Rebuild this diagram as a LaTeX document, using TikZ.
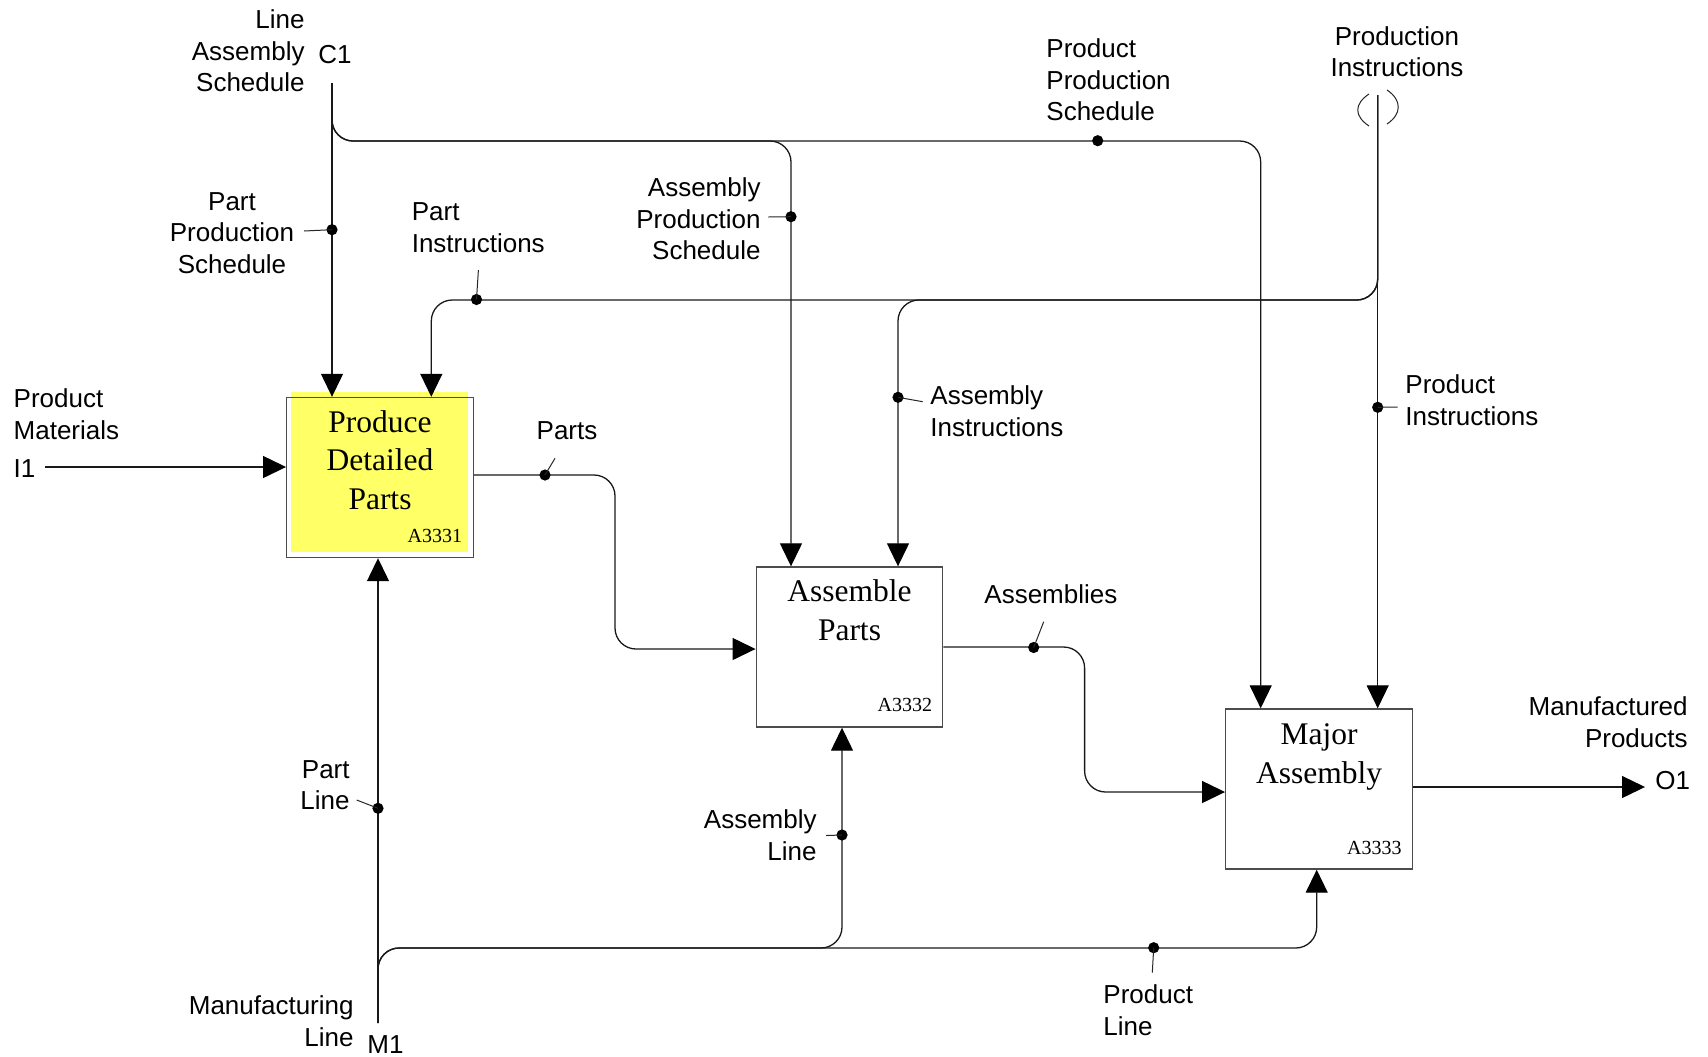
\documentclass[tikz,border=0pt]{standalone}
\usepackage{fontspec}
\setmainfont{Liberation Serif}
\setsansfont{Liberation Sans}
\usetikzlibrary{arrows.meta,calc}
\definecolor{actfill}{RGB}{255,255,102}
\begin{document}
\begin{tikzpicture}[x=0.5pt,y=-0.5pt,
  flow/.style={draw=black!90,line width=0.65pt,rounded corners=10.5pt,
    -{Triangle[length=11.5pt,width=11pt,color=black]}},
  actbox/.style={draw=black!70,line width=0.7pt,minimum width=93.25pt,
    minimum height=80pt,inner sep=0},
  ttl/.style={font=\rmfamily\fontsize{15.75}{19.25}\selectfont,align=center,inner sep=0},
  idl/.style={font=\rmfamily\fontsize{10}{12}\selectfont,inner sep=0},
  lab/.style={font=\sffamily\fontsize{13}{15.75}\selectfont,inner sep=0},
  dot/.style={circle,fill=black,inner sep=0,minimum size=5.6pt},
  leader/.style={draw=black!85,line width=0.5pt},
  tunnel/.style={draw=black!85,line width=0.5pt}]

\fill[white] (0,0) rectangle (1708,1056);
\useasboundingbox (0,0) rectangle (1708,1056);

% activity boxes
\fill[actfill] (291,392) rectangle (468,552);
\node[actbox] (b1) at (380,477.5) {};
\node[actbox] (b2) at (849.5,647) {};
\node[actbox] (b3) at (1319,789) {};

\node[ttl,anchor=north] (t1) at ($(b1.north)+(0,13)$) {Produce\\Detailed\\Parts};
\node[ttl,anchor=north] (t2) at ($(b2.north)+(0,13)$) {Assemble\\Parts};
\node[ttl,anchor=north] (t3) at ($(b3.north)+(0,15)$) {Major\\Assembly};
\node[idl,anchor=base east] (id1) at ($(b1.south east)+(-11.5,-15.5)$) {A3331};
\node[idl,anchor=base east] (id2) at ($(b2.south east)+(-11,-16)$) {A3332};
\node[idl,anchor=base east] (id3) at ($(b3.south east)+(-11,-15)$) {A3333};

% boundary ends
\coordinate (c1) at (332,83);
\coordinate (pi) at (1377.7,95);
\coordinate (i1) at (45,467);
\coordinate (m1) at (378,1023);
\coordinate (o1) at (1645,787);

% controls
\draw[flow] (c1) -- (b1.north -| c1);
\draw[flow] (c1) -- (332,141) -- (791,141) -- (b2.north -| 791,0);
\draw[flow] (c1) -- (332,141) -- (1260.7,141) -- (b3.north -| 1260.7,0);
\draw[flow] (pi) -- (b3.north -| pi);
\draw[flow] (pi) -- (1377.7,300) -- (898,300) -- (b2.north -| 898,0);
\draw[flow] (pi) -- (1377.7,300) -- (431.3,300) -- (b1.north -| 431.3,0);

% tunnelled arrow end
\draw[tunnel] (1369,94) .. controls (1354,104) and (1354,116) .. (1369,126);
\draw[tunnel] (1387,90) .. controls (1402,100) and (1402,114) .. (1387,124);

% inputs and outputs
\draw[flow] (i1) -- (b1.west |- i1);
\draw[flow] (b1.east |- 0,475) -- (615,475) -- (615,649) -- (b2.west |- 0,649);
\draw[flow] (b2.east |- 0,647) -- (1084.6,647) -- (1084.6,792) -- (b3.west |- 0,792);
\draw[flow] (b3.east |- 0,787) -- (o1);

% mechanisms
\draw[flow] (m1) -- (b1.south -| m1);
\draw[flow] (m1) -- (378,948) -- (842,948) -- (b2.south -| 842,0);
\draw[flow] (m1) -- (378,948) -- (1316.7,948) -- (b3.south -| 1316.7,0);

% label dots
\node[dot] (dpps) at (332,229.7) {};
\node[dot] (dpi) at (476.5,299.5) {};
\node[dot] (daps) at (791,216.7) {};
\node[dot] (dprs) at (1097.7,140.7) {};
\node[dot] (dai) at (898,397.3) {};
\node[dot] (dpri) at (1377.7,407.3) {};
\node[dot] (dparts) at (545,475) {};
\node[dot] (dasm) at (1033.7,647.5) {};
\node[dot] (dpl) at (378,808.3) {};
\node[dot] (dal) at (842,835) {};
\node[dot] (dprl) at (1153.7,947.7) {};

% leaders
\draw[leader] (304,231) -- (dpps.center);
\draw[leader] (478.4,270) -- (dpi.center);
\draw[leader] (768.3,217) -- (daps.center);
\draw[leader] (922.7,401.7) -- (dai.center);
\draw[leader] (1397.7,407) -- (dpri.center);
\draw[leader] (555,458.3) -- (dparts.center);
\draw[leader] (1043.7,621.7) -- (dasm.center);
\draw[leader] (356.7,800) -- (dpl.center);
\draw[leader] (826,835.5) -- (dal.center);
\draw[leader] (1152.3,972.7) -- (dprl.center);

% labels
\node[lab,align=right,anchor=east] (llas) at (305,51) {Line\\Assembly\\Schedule};
\node[lab,anchor=west] (lc1) at (318,55) {C1};
\node[lab,align=center] (lpps) at (232,233) {Part\\Production\\Schedule};
\node[lab,align=left,anchor=west] (lpi) at (411.4,227.5) {Part\\Instructions};
\node[lab,align=right,anchor=east] (laps) at (761,219) {Assembly\\Production\\Schedule};
\node[lab,align=left,anchor=west] (lprs) at (1046,80) {Product\\Production\\Schedule};
\node[lab,align=center] (lpi2) at (1397,51.5) {Production\\Instructions};
\node[lab,align=left,anchor=west] (lpm) at (13.3,414) {Product\\Materials};
\node[lab,anchor=west] (li1) at (13.3,469) {I1};
\node[lab] (lparts) at (567,431) {Parts};
\node[lab,align=left,anchor=west] (lai) at (930,411) {Assembly\\Instructions};
\node[lab,align=left,anchor=west] (lpri) at (1405,400) {Product\\Instructions};
\node[lab,anchor=west] (lasm) at (984,594) {Assemblies};
\node[lab,align=right,anchor=east] (lmp) at (1688,722) {Manufactured\\Products};
\node[lab,anchor=west] (lo1) at (1655,781) {O1};
\node[lab,align=right,anchor=east] (lpl) at (350,785) {Part\\Line};
\node[lab,align=right,anchor=east] (lal) at (817,835) {Assembly\\Line};
\node[lab,align=right,anchor=east] (lml) at (354,1021) {Manufacturing\\Line};
\node[lab,anchor=west] (lm1) at (367,1045) {M1};
\node[lab,align=left,anchor=west] (lprl) at (1103,1010) {Product\\Line};

\end{tikzpicture}
\end{document}
